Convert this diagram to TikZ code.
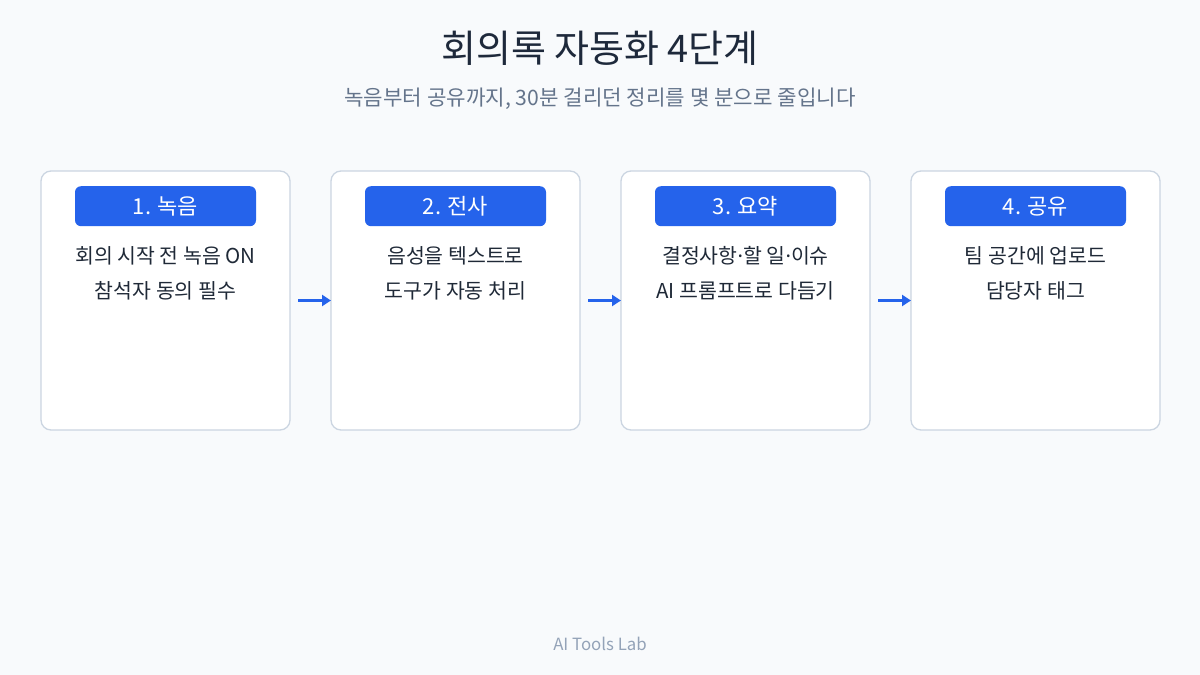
\documentclass[tikz,border=0pt]{standalone}
\usepackage{fontspec}
\setmainfont{Noto Sans CJK KR}
\newfontfamily\dotfont{Noto Sans}
\newcommand{\middot}{{\dotfont ·}}
\usepackage{tikz}
\usetikzlibrary{arrows.meta, positioning}
\definecolor{bgcol}{HTML}{F8FAFC}
\definecolor{framecol}{HTML}{CBD5E1}
\definecolor{stepblue}{HTML}{2563EB}
\definecolor{titlecol}{HTML}{1E293B}
\definecolor{textcol}{HTML}{1F2937}
\definecolor{subcol}{HTML}{64748B}
\definecolor{footcol}{HTML}{94A3B8}
\tikzset {
    card/.style = {
        draw = framecol,
        fill = white,
        line width = 1.3pt,
        rounded corners = 10pt,
        minimum width = 249pt,
        minimum height = 259pt,
        inner sep = 0pt,
        outer sep = 0pt
    },
    pill/.style = {
        fill = stepblue,
        rounded corners = 6pt,
        minimum width = 181pt,
        minimum height = 40pt,
        inner sep = 0pt,
        text = white,
        font = {\fontsize{22}{26}\selectfont}
    },
    body/.style = {
        align = center,
        text = textcol,
        inner sep = 0pt,
        font = {\fontsize{20.5}{35}\selectfont}
    },
    flow/.style = {
        draw = stepblue,
        line width = 3pt,
        -{Triangle[length=9pt, width=11pt]},
        shorten <= 8pt
    }
}
\begin{document}
\begin{tikzpicture}[x=1pt, y=-1pt, node distance=41pt]
        \fill[bgcol] (0, 0) rectangle (1200, 675);
        \useasboundingbox (0, 0) rectangle (1200, 675);

        % Title and subtitle
        \node[text=titlecol, font={\fontsize{38}{44}\selectfont}] (title) at (600, 48) {회의록 자동화 4단계};
        \node[text=subcol, font={\fontsize{21.2}{26}\selectfont}] (subtitle) at (600, 99) {녹음부터 공유까지, 30분 걸리던 정리를 몇 분으로 줄입니다};

        % Four step cards, side by side
        \node [card] at (165.5, 300.5)          (card1) {};
        \node [card, right=of card1]            (card2) {};
        \node [card, right=of card2]            (card3) {};
        \node [card, right=of card3]            (card4) {};

        % Blue headers
        \node [pill, below=15pt of card1.north] (head1) {1. 녹음};
        \node [pill, below=15pt of card2.north] (head2) {2. 전사};
        \node [pill, below=15pt of card3.north] (head3) {3. 요약};
        \node [pill, below=15pt of card4.north] (head4) {4. 공유};

        % Card texts
        \node [body, below=20pt of head1] (text1) {회의 시작 전 녹음 ON\\참석자 동의 필수};
        \node [body, below=20pt of head2] (text2) {음성을 텍스트로\\도구가 자동 처리};
        \node [body, below=20pt of head3] (text3) {결정사항\middot 할 일\middot 이슈\\AI 프롬프트로 다듬기};
        \node [body, below=20pt of head4] (text4) {팀 공간에 업로드\\담당자 태그};

        \path [flow] (card1) -- (card2);
        \path [flow] (card2) -- (card3);
        \path [flow] (card3) -- (card4);

        % Footer
        \node[text=footcol, font={\fontsize{16.8}{20}\selectfont}] (footer) at (600, 644) {AI Tools Lab};
    \end{tikzpicture}
\end{document}
